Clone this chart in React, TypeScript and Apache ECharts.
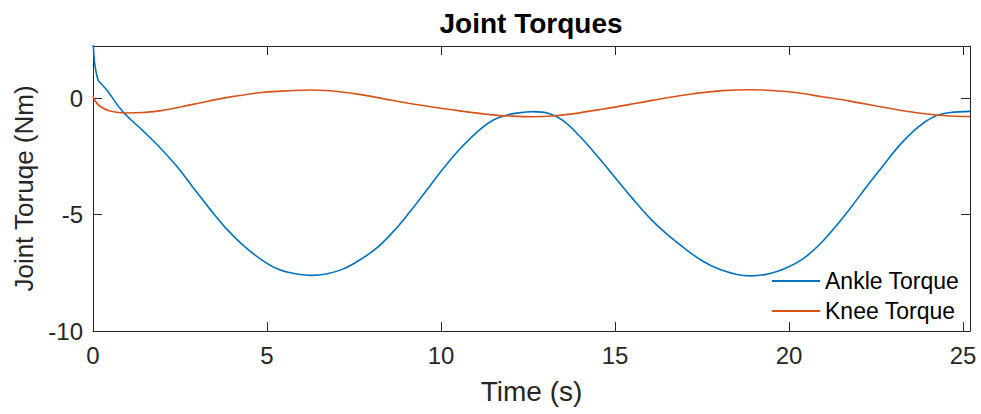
import React, { useEffect, useRef } from "react";
import * as echarts from "echarts";

const titleText = "Joint Torques";
const xName = "Time (s)";
const yName = "Joint Toruqe (Nm)";
const seriesNames = ["Ankle Torque", "Knee Torque"];

const ankleTime = [
  0, 0.04, 0.1, 0.15, 0.2, 0.4, 0.86, 1.44, 1.92, 2.39, 2.87, 3.35, 3.83, 4.31, 4.79, 5.27, 5.75, 6.27, 6.7,
  7.18, 7.66, 8.14, 8.62, 9.1, 9.58, 10.06, 10.54, 11.02, 11.49, 11.97, 12.45, 12.64, 13.1, 13.5, 14.0, 14.5,
  15.0, 15.5, 16.0, 16.5, 17.0, 17.5, 18.0, 18.5, 18.9, 19.4, 19.9, 20.4, 20.9, 21.4, 21.75, 22.2, 22.7, 23.2,
  23.7, 24.15, 24.6, 25.2,
];
const ankleTorque = [
  2.6, 1.6, 1.05, 0.78, 0.68, 0.35, -0.58, -1.4, -2.11, -2.89, -3.82, -4.74, -5.6, -6.31, -6.88, -7.31, -7.52,
  -7.61, -7.55, -7.34, -6.95, -6.45, -5.74, -4.89, -3.96, -3.03, -2.18, -1.47, -0.94, -0.69, -0.59, -0.57,
  -0.65, -0.95, -1.65, -2.5, -3.4, -4.3, -5.15, -5.85, -6.45, -6.98, -7.35, -7.57, -7.63, -7.55, -7.3, -6.9,
  -6.25, -5.4, -4.75, -3.85, -2.9, -1.98, -1.25, -0.8, -0.62, -0.56,
];

const kneeTime = [
  0, 0.05, 0.19, 0.48, 0.96, 1.44, 1.92, 2.87, 3.83, 4.79, 5.75, 6.23, 6.7, 7.66, 8.62, 9.58, 10.54, 11.49,
  11.97, 12.64, 13.2, 13.71, 14.66, 15.62, 16.58, 17.25, 18.1, 18.88, 19.5, 20.12, 21.0, 21.75, 22.71, 23.67,
  24.62, 25.2,
];
const kneeTorque = [
  0.1, -0.08, -0.33, -0.54, -0.63, -0.61, -0.54, -0.26, 0.03, 0.24, 0.34, 0.36, 0.34, 0.17, -0.09, -0.33, -0.54,
  -0.71, -0.76, -0.79, -0.76, -0.68, -0.46, -0.21, 0.05, 0.2, 0.33, 0.37, 0.34, 0.26, 0.06, -0.12, -0.38, -0.62,
  -0.76, -0.78,
];

const xMin = 0;
const xMax = 25.2;
const xInterval = 5;
const yMin = -10;
const yMax = 2.25;
const yInterval = 5;

const FONT = "'Liberation Sans', Arial, Helvetica, sans-serif";
const AX = "#262626";

export default function App() {
  const ref = useRef<HTMLDivElement>(null);
  useEffect(() => {
    if (!ref.current) return;
    const chart = echarts.init(ref.current, undefined, { renderer: "svg" });
    const tickFmt = (v: number) => (Math.abs(v % 5) < 1e-9 ? String(v) : "");
    const baseX = {
      type: "value" as const,
      min: xMin,
      max: xMax,
      interval: xInterval,
      splitLine: { show: false },
      axisLine: { show: true, onZero: false, lineStyle: { color: AX, width: 1 } },
      axisTick: { show: true, inside: true, length: 9, lineStyle: { color: AX } },
    };
    const baseY = {
      type: "value" as const,
      min: yMin,
      max: yMax,
      interval: yInterval,
      splitLine: { show: false },
      axisLine: { show: true, onZero: false, lineStyle: { color: AX, width: 1 } },
      axisTick: { show: true, inside: true, length: 9, lineStyle: { color: AX } },
    };
    chart.setOption({
      animation: false,
      backgroundColor: "#fff",
      textStyle: { fontFamily: FONT },
      title: {
        text: titleText,
        left: 531,
        textAlign: "center",
        top: 9,
        padding: 0,
        textStyle: { fontFamily: FONT, fontSize: 28, fontWeight: "bold", color: "#000" },
      },
      grid: { left: 93, right: 11, top: 46, bottom: 83, containLabel: false },
      legend: {
        orient: "vertical",
        left: 772,
        top: 268,
        padding: 0,
        icon: "rect",
        itemWidth: 48,
        itemHeight: 2,
        itemGap: 4,
        textStyle: { fontFamily: FONT, fontSize: 23, color: "#000", lineHeight: 26 },
        data: seriesNames,
      },
      xAxis: [
        {
          ...baseX,
          position: "bottom",
          name: xName,
          nameLocation: "middle",
          nameGap: 46,
          nameTextStyle: { fontFamily: FONT, fontSize: 28, color: AX },
          axisLabel: { show: true, margin: 12, fontSize: 24, color: AX, fontFamily: FONT, formatter: tickFmt, showMaxLabel: false },
        },
        { ...baseX, position: "top", axisLabel: { show: false } },
      ],
      yAxis: [
        {
          ...baseY,
          position: "left",
          name: yName,
          nameLocation: "middle",
          nameGap: 46,
          nameTextStyle: { fontFamily: FONT, fontSize: 26, color: AX },
          axisLabel: { show: true, margin: 10, fontSize: 24, color: AX, fontFamily: FONT, formatter: tickFmt, showMaxLabel: false },
        },
        { ...baseY, position: "right", axisLabel: { show: false } },
      ],
      series: [
        {
          name: seriesNames[0],
          type: "line",
          xAxisIndex: 0,
          yAxisIndex: 0,
          data: ankleTime.map((t, i) => [t, ankleTorque[i]]),
          symbol: "none",
          showSymbol: false,
          smooth: 0.4,
          clip: true,
          lineStyle: { color: "#0072BD", width: 1.6 },
          itemStyle: { color: "#0072BD" },
        },
        {
          name: seriesNames[1],
          type: "line",
          xAxisIndex: 0,
          yAxisIndex: 0,
          data: kneeTime.map((t, i) => [t, kneeTorque[i]]),
          symbol: "none",
          showSymbol: false,
          smooth: 0.4,
          clip: true,
          lineStyle: { color: "#D95319", width: 1.6 },
          itemStyle: { color: "#D95319" },
        },
      ],
    });
    return () => chart.dispose();
  }, []);
  return (
    <div
      ref={ref}
      style={{ position: "fixed", left: 0, top: 0, width: 981, height: 414, background: "#fff" }}
    />
  );
}
